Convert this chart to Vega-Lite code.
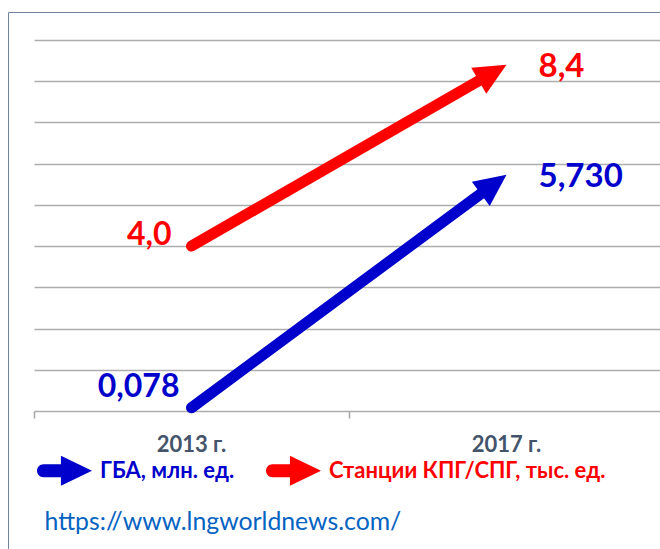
{
  "$schema": "https://vega.github.io/schema/vega-lite/v6.json",
  "width": 652,
  "height": 537,
  "autosize": {"type": "none"},
  "padding": {"left": 8, "top": 12, "right": 0, "bottom": 0},
  "background": "white",
  "config": {
    "view": {"stroke": "#7384A0", "strokeWidth": 1, "strokeDash": [652, 1189, 537, 0]},
    "font": "Lato, Open Sans"
  },
  "data": {
    "values": [
      {"year": "2013 г.", "series": "ГБА, млн. ед.", "value": 0.078, "label": "0,078"},
      {"year": "2017 г.", "series": "ГБА, млн. ед.", "value": 5.73, "label": "5,730"},
      {"year": "2013 г.", "series": "Станции КПГ/СПГ, тыс. ед.", "value": 4.0, "label": "4,0"},
      {"year": "2017 г.", "series": "Станции КПГ/СПГ, тыс. ед.", "value": 8.4, "label": "8,4"}
    ]
  },
  "encoding": {
    "x": {
      "field": "year", "type": "nominal", "sort": null,
      "scale": {"type": "band", "domain": ["2013 г.", "2017 г."], "range": [26, 656], "paddingInner": 0, "paddingOuter": 0},
      "axis": {
        "orient": "bottom", "offset": -138, "domain": false, "bandPosition": 0,
        "ticks": true, "tickSize": 7, "tickColor": "#A6A6A6", "tickWidth": 1.5,
        "labelFont": "Lato, Open Sans", "labelFontSize": 22, "labelFontWeight": "bold", "labelColor": "#44546A",
        "labelPadding": 33, "labelBaseline": "alphabetic", "labelAngle": 0, "grid": false,
        "title": "https://www.lngworldnews.com/", "titleFont": "Lato, Open Sans", "titleFontSize": 24.8,
        "titleFontWeight": "normal", "titleColor": "#0563C1", "titleX": 36, "titleY": 118,
        "titleAlign": "left", "titleBaseline": "alphabetic", "titleAnchor": "start", "titleAngle": 0
      }
    },
    "y": {
      "field": "value", "type": "quantitative",
      "scale": {"domain": [-3.35, 9.68], "nice": false, "zero": false},
      "axis": {
        "orient": "left", "offset": -26, "values": [0, 1, 2, 3, 4, 5, 6, 7, 8, 9],
        "domain": false, "labels": false, "ticks": true, "tickSize": -630,
        "tickColor": "#ADADAD", "tickWidth": 1.5, "grid": false, "title": null
      }
    }
  },
  "layer": [
    {
      "transform": [{"filter": "datum.series == 'ГБА, млн. ед.'"}],
      "mark": {"type": "line", "color": "#0000CC", "strokeWidth": 11, "strokeCap": "round", "strokeDash": [372, 2000]}
    },
    {
      "transform": [{"filter": "datum.series == 'Станции КПГ/СПГ, тыс. ед.'"}],
      "mark": {"type": "line", "color": "#FF0000", "strokeWidth": 11, "strokeCap": "round", "strokeDash": [344, 2000]}
    },
    {
      "transform": [{"filter": "datum.series == 'ГБА, млн. ед.' && datum.year == '2017 г.'"}],
      "mark": {"type": "point", "shape": "M 0 0 L -1 -0.47 L -1 0.47 Z", "size": 4096, "filled": true, "opacity": 1, "strokeWidth": 0, "angle": 323.5},
      "encoding": {
        "color": {
          "field": "series", "type": "nominal",
          "scale": {"domain": ["ГБА, млн. ед.", "Станции КПГ/СПГ, тыс. ед."], "range": ["#0000CC", "#FF0000"]},
          "legend": {
            "orient": "none", "legendX": 29, "legendY": 431, "direction": "horizontal", "title": null,
            "symbolType": "M -0.13 -0.236 L -0.764 -0.236 A 0.236 0.236 0 0 0 -0.764 0.236 L -0.13 0.236 L -0.13 0.545 L 1 0 L -0.13 -0.545 Z",
            "symbolSize": 3025, "symbolOpacity": 1, "symbolStrokeWidth": 0,
            "labelFont": "Lato, Open Sans", "labelFontSize": 22, "labelFontWeight": "bold",
            "labelColor": {"expr": "datum.label == 'ГБА, млн. ед.' ? '#0000CC' : '#FF0000'"},
            "labelOffset": 8, "columnPadding": 30, "labelLimit": 0, "padding": 0
          }
        }
      }
    },
    {
      "transform": [{"filter": "datum.series == 'Станции КПГ/СПГ, тыс. ед.' && datum.year == '2017 г.'"}],
      "mark": {"type": "point", "shape": "M 0 0 L -1 -0.47 L -1 0.47 Z", "size": 4096, "filled": true, "opacity": 1, "strokeWidth": 0, "angle": 330.1},
      "encoding": {
        "color": {"field": "series", "type": "nominal"}
      }
    },
    {
      "transform": [{"filter": "datum.series == 'ГБА, млн. ед.' && datum.year == '2013 г.'"}],
      "mark": {"type": "text", "align": "right", "baseline": "alphabetic", "dx": -12, "dy": -11, "fontSize": 32, "fontWeight": "bold", "color": "#0000CC"},
      "encoding": {"text": {"field": "label"}}
    },
    {
      "transform": [{"filter": "datum.series == 'Станции КПГ/СПГ, тыс. ед.' && datum.year == '2013 г.'"}],
      "mark": {"type": "text", "align": "right", "baseline": "alphabetic", "dx": -20, "dy": -1, "fontSize": 32, "fontWeight": "bold", "color": "#FF0000"},
      "encoding": {"text": {"field": "label"}}
    },
    {
      "transform": [{"filter": "datum.series == 'ГБА, млн. ед.' && datum.year == '2017 г.'"}],
      "mark": {"type": "text", "align": "left", "baseline": "middle", "dx": 32, "dy": 2, "fontSize": 33, "fontWeight": "bold", "color": "#0000CC"},
      "encoding": {"text": {"field": "label"}}
    },
    {
      "transform": [{"filter": "datum.series == 'Станции КПГ/СПГ, тыс. ед.' && datum.year == '2017 г.'"}],
      "mark": {"type": "text", "align": "left", "baseline": "middle", "dx": 32, "dy": 2, "fontSize": 33, "fontWeight": "bold", "color": "#FF0000"},
      "encoding": {"text": {"field": "label"}}
    }
  ]
}
